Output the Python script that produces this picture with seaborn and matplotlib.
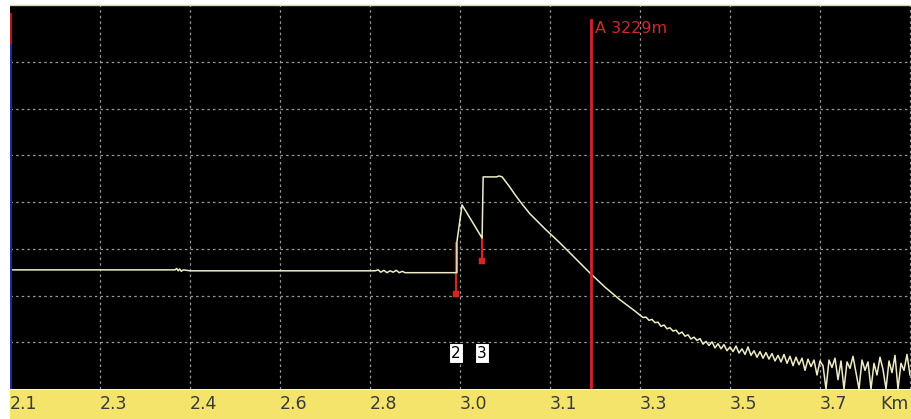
import numpy as np
import pandas as pd
import matplotlib
matplotlib.use("Agg")
import matplotlib.pyplot as plt
from matplotlib.patches import Rectangle
import seaborn as sns

# ---- data (distance in km, level in divisions) ----
flat_km = [2.099, 2.420, 2.423, 2.426, 2.429, 2.432, 2.436, 2.449, 2.809, 2.815,
           2.820, 2.826, 2.832, 2.838, 2.844, 2.850, 2.856, 2.862, 2.867, 2.966]
flat_lvl = [2.55, 2.55, 2.58, 2.53, 2.57, 2.52, 2.55, 2.53, 2.53, 2.55,
            2.50, 2.54, 2.49, 2.53, 2.50, 2.54, 2.49, 2.52, 2.49, 2.49]

event_km = [2.968, 2.968, 2.978, 3.017, 3.019, 3.021, 3.045, 3.050, 3.056]
event_lvl = [2.49, 3.15, 3.94, 3.23, 4.54, 4.54, 4.54, 4.56, 4.54]

decay_km = [3.069, 3.083, 3.096, 3.110, 3.139, 3.168, 3.197, 3.227, 3.256, 3.285, 3.314]
decay_lvl = [4.35, 4.13, 3.94, 3.75, 3.43, 3.13, 2.81, 2.48, 2.18, 1.91, 1.67]

# noisy tail, sampled evenly from 3.324 km to 3.849 km
tail_start, tail_end = 3.324, 3.849
tail_lvl = [1.58, 1.53, 1.54, 1.47, 1.49, 1.42, 1.43, 1.34, 1.37, 1.29,
            1.31, 1.24, 1.26, 1.18, 1.22, 1.13, 1.16, 1.07, 1.11, 1.04,
            1.08, 0.96, 1.02, 0.93, 1.01, 0.88, 0.97, 0.86, 0.95, 0.82,
            0.90, 0.80, 0.92, 0.77, 0.86, 0.74, 0.90, 0.72, 0.82, 0.68,
            0.80, 0.66, 0.78, 0.64, 0.76, 0.60, 0.72,
            0.58, 0.74, 0.55, 0.70, 0.50, 0.68, 0.52, 0.66, 0.40, 0.64,
            0.48, 0.62, 0.30, 0.60, 0.50, 0.00, 0.62, 0.46, 0.66, 0.20,
            0.60, 0.00, 0.58, 0.44, 0.70, 0.35, 0.00, 0.62, 0.40, 0.58,
            0.00, 0.55, 0.30, 0.68, 0.42, 0.00, 0.60, 0.35, 0.72, 0.00,
            0.55, 0.40, 0.74, 0.30]

# event markers: position, marker level, top of red line, label
event_pos = [2.966, 3.017]
event_low = [2.03, 2.74]
event_high = [3.13, 3.25]
event_names = ["2", "3"]
label_level = 0.77

cursor_km = 3.229
cursor_text = "A 3229m"

x_start, x_step = 2.099, 0.175
tick_labels = ["2.1", "2.3", "2.4", "2.6", "2.8", "3.0", "3.1", "3.3", "3.5", "3.7"]
unit_label = "Km"

# ---- build trace ----
tail_km = np.linspace(tail_start, tail_end, len(tail_lvl))
trace = pd.DataFrame({
    "km": flat_km + event_km + decay_km + list(tail_km),
    "level": flat_lvl + event_lvl + decay_lvl + tail_lvl,
})

trace_color = "#efedc6"
red = "#d42424"

fig = plt.figure(figsize=(9.12, 4.19), dpi=100)
fig.patch.set_facecolor("white")
ax = fig.add_axes([10 / 912, 30 / 419, 902 / 912, 384 / 419])
ax.set_facecolor("black")

# yellow strip behind the tick labels
fig.add_artist(Rectangle((10 / 912, 0), 902 / 912, 29 / 419,
                         transform=fig.transFigure, color="#f5e46c", zorder=-1))

x_max = x_start + 902 / 90 * x_step
ax.set_xlim(x_start, x_max)
ax.set_ylim(0, 8.22)

# grid
grid_x = [x_start + k * x_step for k in range(1, 11)]
for gx in grid_x:
    ax.axvline(gx, color="#9a9a9a", lw=0.9, ls=(0, (2, 2.5)), zorder=1)
for gy in range(1, 8):
    ax.axhline(gy, color="#9a9a9a", lw=0.9, ls=(0, (2, 2.5)), zorder=1)

# red event lines
for pos, lo, hi in zip(event_pos, event_low, event_high):
    ax.plot([pos, pos], [lo, hi], color=red, lw=1.6, zorder=2)

sns.lineplot(data=trace, x="km", y="level", sort=False, estimator=None,
             color=trace_color, lw=1.1, ax=ax, zorder=3)

sns.scatterplot(x=event_pos, y=event_low, color=red, marker="s", s=18,
                edgecolor=red, ax=ax, zorder=4)

for pos, name in zip(event_pos, event_names):
    ax.text(pos, label_level, name, color="black", fontsize=11, ha="center", va="center",
            bbox=dict(boxstyle="square,pad=0.15", fc="white", ec="black", lw=0.8), zorder=5)

# cursor A
ax.plot([cursor_km, cursor_km], [0, 7.9], color=red, lw=2.0, zorder=4)
ax.text(cursor_km + 0.008, 7.72, cursor_text, color="#cc2a2a", fontsize=11.5,
        ha="left", va="center", zorder=5)

# left edge bar
ax.axvline(x_start, ymin=0, ymax=0.904, color="#1c2a9a", lw=3, zorder=6)
ax.axvline(x_start, ymin=0.904, ymax=0.974, color="#b01818", lw=3, zorder=6)

# axis ticks
ax.set_xticks([x_start + k * x_step for k in range(len(tick_labels))])
ax.set_xticklabels(tick_labels)
for lab in ax.get_xticklabels():
    lab.set_horizontalalignment("left")
ax.tick_params(axis="x", length=0, pad=4, labelsize=12.5, labelcolor="#3a3a3a")
ax.set_yticks([])
ax.set_xlabel("")
ax.set_ylabel("")
ax.text(x_start + 870 / 90 * x_step, -0.33, unit_label, color="#3a3a3a", fontsize=12.5,
        ha="left", va="center", clip_on=False)

for side in ["left", "right", "bottom"]:
    ax.spines[side].set_visible(False)
ax.spines["top"].set_color("#d8d2b4")
ax.spines["top"].set_linewidth(1)

fig.savefig("out.png", dpi=100, facecolor="white")
